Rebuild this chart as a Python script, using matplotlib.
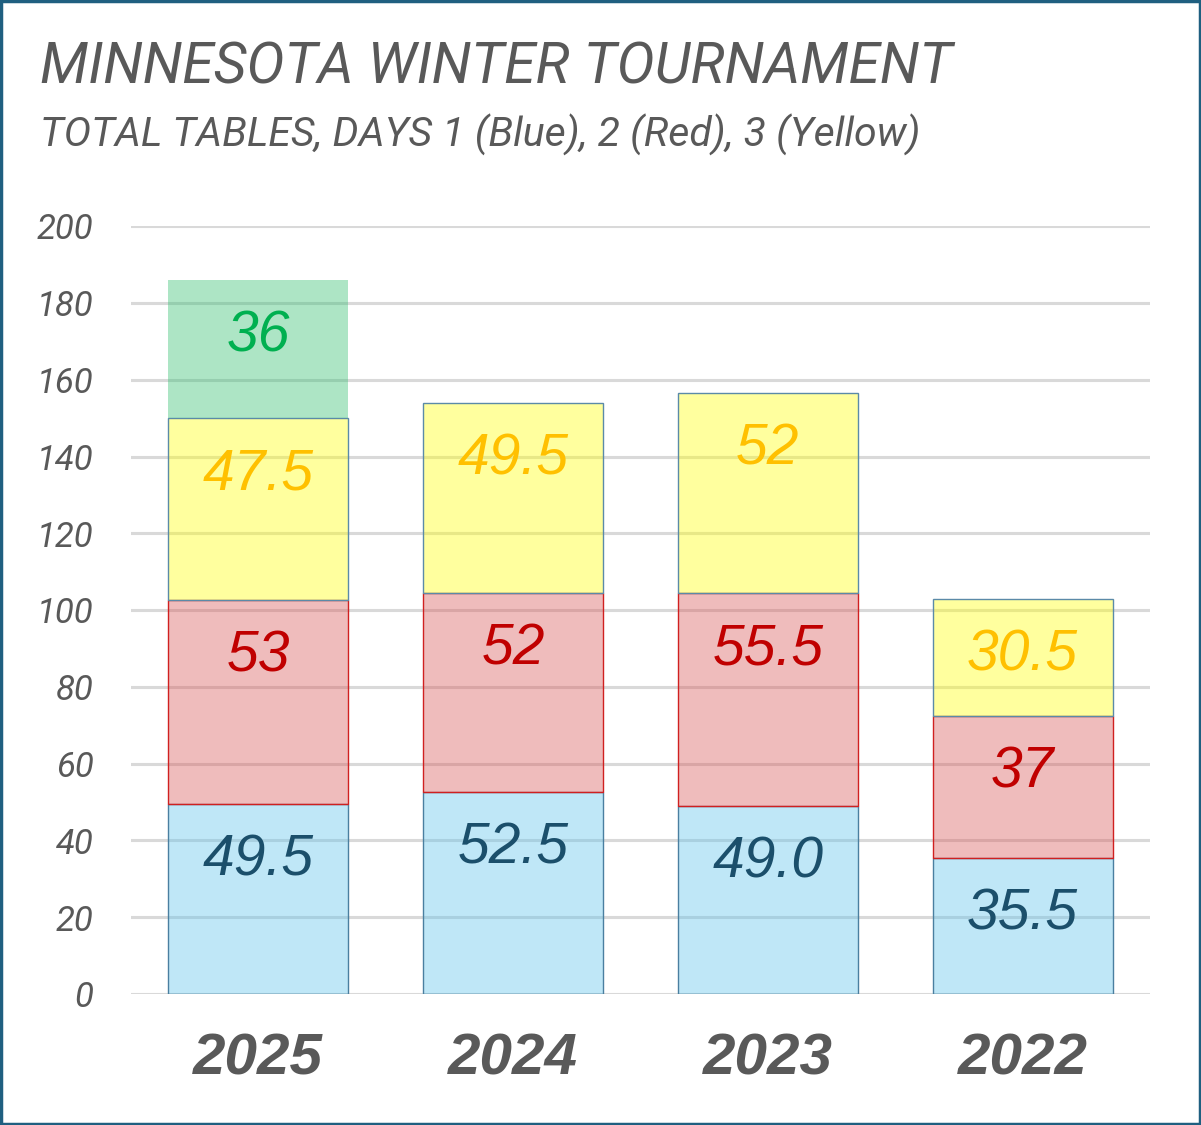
import matplotlib.pyplot as plt
from matplotlib.patches import Rectangle
import numpy as np

years = ['2025', '2024', '2023', '2022']
day1 = [49.5, 52.5, 49.0, 35.5]
day2 = [53, 52, 55.5, 37]
day3 = [47.5, 49.5, 52, 30.5]
day4 = [36, 0, 0, 0]
day1_labels = ['49.5', '52.5', '49.0', '35.5']
day2_labels = ['53', '52', '55.5', '37']
day3_labels = ['47.5', '49.5', '52', '30.5']
day4_labels = ['36', '', '', '']

narrow = ['Roboto', 'DejaVu Sans']
plain = ['Liberation Sans', 'DejaVu Sans']
grey = '#595959'

fig = plt.figure(figsize=(12.01, 11.25), dpi=100)
ax = fig.add_axes([0.109, 0.1164, 0.8485, 0.6826])

x = np.arange(len(years))
w = 0.707

series = [
    (day1, day1_labels, (0.38, 0.77, 0.93, 0.4), '#4A7FA0', '#1B4F6B'),
    (day2, day2_labels, (0.85, 0.35, 0.35, 0.4), '#D02020', '#C00000'),
    (day3, day3_labels, (1.0, 1.0, 0.05, 0.4), '#5B8AA8', '#FFC000'),
    (day4, day4_labels, (0.2, 0.75, 0.44, 0.4), 'none', '#00B050'),
]

bottom = np.zeros(len(years))
for vals, labels, fc, ec, tc in series:
    vals = np.array(vals, dtype=float)
    bars = ax.bar(x, vals, w, bottom=bottom, color=fc, edgecolor=ec,
                  linewidth=1.0, zorder=3)
    for i, b in enumerate(bars):
        if vals[i] <= 0:
            b.set_visible(False)
            continue
        top = bottom[i] + vals[i]
        ax.text(x[i], top - 14.7, labels[i], ha='center', va='center',
                fontsize=41, style='italic', color=tc, family=plain, zorder=4)
    bottom += vals

ax.set_xlim(-0.5, 3.5)
ax.set_ylim(0, 200)
ax.set_yticks(range(0, 201, 20))
ax.yaxis.grid(True, color='#D9D9D9', linewidth=2.2, zorder=0)
ax.set_axisbelow(True)
for s in ax.spines.values():
    s.set_visible(False)
ax.tick_params(axis='y', length=0, pad=27, labelsize=25, labelcolor=grey)
for t in ax.get_yticklabels():
    t.set_fontstyle('italic')
    t.set_family(narrow)
ax.set_xticks(x)
ax.set_xticklabels(years)
ax.tick_params(axis='x', length=0, pad=28, labelsize=42, labelcolor=grey)
for t in ax.get_xticklabels():
    t.set_fontstyle('italic')
    t.set_fontweight('bold')
    t.set_family(plain)

fig.text(40 / 1201, 1 - 68 / 1125, 'MINNESOTA WINTER TOURNAMENT', fontsize=41,
         style='italic', color=grey, family=narrow, va='center', ha='left')
fig.text(40 / 1201, 1 - 135 / 1125,
         'TOTAL TABLES, DAYS 1 (Blue), 2 (Red), 3 (Yellow)', fontsize=29.5,
         style='italic', color=grey, family=narrow, va='center', ha='left')

fig.patches.append(Rectangle((0.001, 0.001), 0.998, 0.998, transform=fig.transFigure,
                             fill=False, edgecolor='#1F5F80', linewidth=2.5))

fig.savefig('out.png', dpi=100)
